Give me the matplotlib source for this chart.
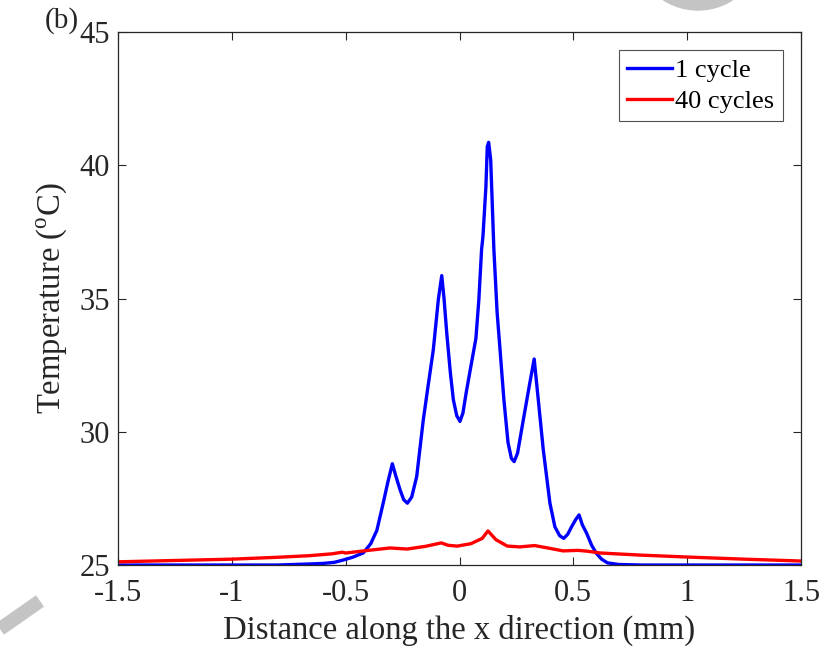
import numpy as np
import matplotlib
matplotlib.use("Agg")
from matplotlib import pyplot as plt
from matplotlib.patches import Circle
from matplotlib.lines import Line2D

# temperature profiles along x (mm) -> temperature (degC)
x_1cycle = [-1.5, -1.0, -0.8, -0.656, -0.6, -0.55, -0.51, -0.47, -0.444, -0.423,
            -0.39, -0.363, -0.335, -0.315, -0.295, -0.28, -0.261, -0.245, -0.229,
            -0.21, -0.188, -0.159, -0.14, -0.115, -0.093, -0.078, -0.068, -0.056,
            -0.04, -0.027, -0.012, 0.002, 0.015, 0.03, 0.053, 0.072, 0.085, 0.097,
            0.103, 0.116, 0.122, 0.128, 0.137, 0.151, 0.165, 0.178, 0.195, 0.213,
            0.228, 0.24, 0.255, 0.283, 0.309, 0.328, 0.346, 0.368, 0.397, 0.419,
            0.44, 0.458, 0.475, 0.492, 0.51, 0.525, 0.54, 0.558, 0.58, 0.60,
            0.624, 0.65, 0.7, 0.8, 1.0, 1.5]
t_1cycle = [25.0, 25.0, 25.0, 25.04, 25.06, 25.1, 25.19, 25.29, 25.38, 25.45,
            25.8, 26.3, 27.33, 28.1, 28.8, 28.35, 27.82, 27.45, 27.32,
            27.55, 28.32, 30.45, 31.6, 33.08, 34.96, 35.86, 35.0, 33.7,
            32.2, 31.2, 30.6, 30.39, 30.7, 31.5, 32.6, 33.5, 34.96, 36.84,
            37.33, 39.2, 40.7, 40.86, 40.2, 36.84, 34.5, 33.08, 31.2, 29.6,
            29.0, 28.88, 29.2, 30.58, 31.84, 32.73, 31.2, 29.32, 27.33, 26.43,
            26.1, 26.0, 26.15, 26.43, 26.7, 26.88, 26.5, 26.2, 25.75, 25.45,
            25.22, 25.08, 25.02, 25.0, 25.0, 25.0]

x_40cycles = [-1.5, -1.25, -1.0, -0.8, -0.66, -0.56, -0.515, -0.5, -0.45, -0.4,
              -0.305, -0.27, -0.23, -0.15, -0.08, -0.05, -0.01, 0.05, 0.1,
              0.125, 0.16, 0.21, 0.265, 0.33, 0.4, 0.455, 0.52, 0.56, 0.62,
              0.8, 1.0, 1.25, 1.5]
t_40cycles = [25.12, 25.17, 25.22, 25.29, 25.35, 25.42, 25.48, 25.45, 25.5, 25.55,
              25.64, 25.62, 25.6, 25.7, 25.83, 25.74, 25.71, 25.8, 26.0,
              26.28, 25.95, 25.71, 25.68, 25.73, 25.62, 25.53, 25.55, 25.52, 25.45,
              25.37, 25.3, 25.22, 25.15]

xticks = [-1.5, -1, -0.5, 0, 0.5, 1, 1.5]
xtick_labels = ["-1.5", "-1", "-0.5", "0", "0.5", "1", "1.5"]
yticks = [25, 30, 35, 40, 45]

plt.rcParams["font.family"] = "Liberation Serif"
plt.rcParams["mathtext.fontset"] = "custom"
plt.rcParams["mathtext.rm"] = "Liberation Serif"

fig = plt.figure(figsize=(8.24, 6.49), dpi=100)
ax = fig.add_axes([0.1432, 0.1294, 0.8289, 0.8213])

ax.plot(x_1cycle, t_1cycle, color="#0000ff", lw=2.4, label="1 cycle")
ax.plot(x_40cycles, t_40cycles, color="#ff0000", lw=2.4, label="40 cycles")

ax.set_xlim(-1.5, 1.5)
ax.set_ylim(25, 45)
ax.set_xticks(xticks)
ax.set_xticklabels(xtick_labels)
ax.set_yticks(yticks)
ax.tick_params(direction="in", length=6, width=0.8, color="#262626",
               top=True, right=True, labelsize=22, labelcolor="#262626")
ax.tick_params(axis="x", pad=10)
ax.tick_params(axis="y", pad=6)
for s in ax.spines.values():
    s.set_color("#262626")
    s.set_linewidth(0.9)

ax.set_xlabel("Distance along the x direction (mm)", fontsize=23.5, color="#262626", labelpad=5)
ax.set_ylabel(r"Temperature ($^{\mathrm{o}}$C)", fontsize=23.5, color="#262626", labelpad=7)

leg = ax.legend(loc="upper right", fontsize=19, frameon=True, fancybox=False,
                edgecolor="#262626", handlelength=1.7, handletextpad=0.15,
                borderpad=0.3, labelspacing=0.3, borderaxespad=0.7)
leg.get_frame().set_linewidth(0.8)

fig.text(0.054, 0.968, "(b)", fontsize=21, ha="left", va="center", color="#262626")

# faint watermark pieces around the edges
fig.patches.append(Circle((698, 649 + 54), 64, transform=None, color="#c4c4c4",
                          zorder=-5, figure=fig))
fig.lines.append(Line2D([0, 40], [20, 48], transform=None, color="#c4c4c4",
                        lw=10, solid_capstyle="butt", zorder=-5, figure=fig))

fig.savefig("out.png", dpi=100)
